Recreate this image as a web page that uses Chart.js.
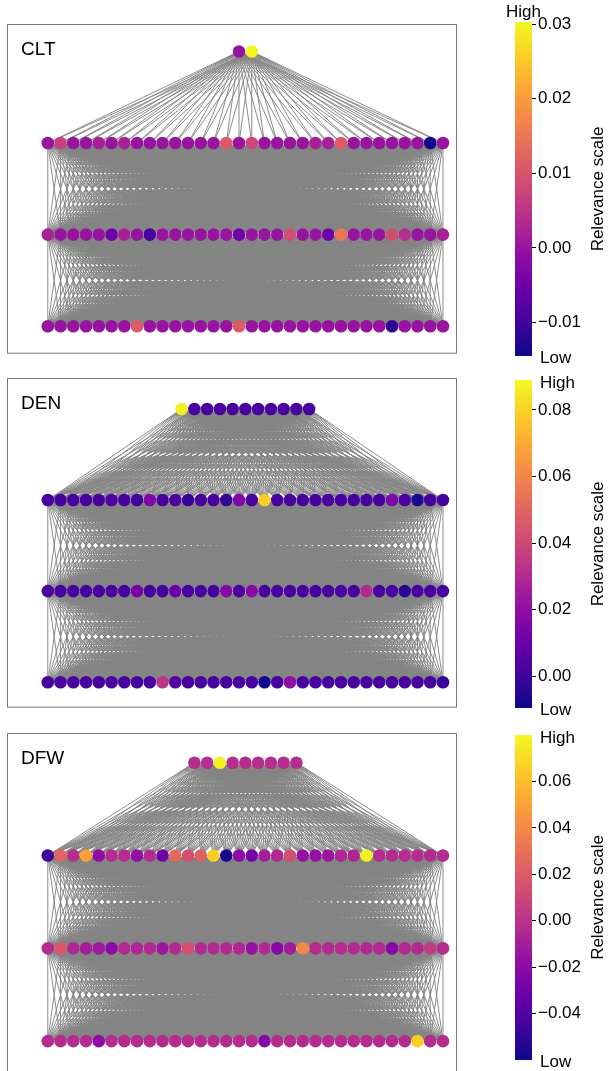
<!DOCTYPE html>
<html>
<head>
<meta charset="utf-8">
<script src="https://cdn.jsdelivr.net/npm/chart.js@4"></script>
<style>
body {
    margin: 0;
    width: 608px;
    height: 1071px;
    overflow: hidden;
    position: relative;
    background: #fff;
    font-family: "Liberation Sans", Arial, sans-serif;
}
canvas {
    position: absolute;
}
</style>
</head>
<body>
<script>
// relevance of each node, layer by layer (top layer first)
var cltTop = [0.000, 0.030];
var cltL1 = [0.000, 0.007, 0.000, 0.000, 0.002, 0.000, 0.002, 0.000, 0.000, 0.000, 0.000, 0.000, 0.000, 0.000, 0.011, 0.000,
             0.008, 0.000, 0.000, 0.000, 0.000, 0.002, 0.002, 0.011, 0.000, 0.000, 0.000, 0.000, 0.000, 0.000, -0.014, 0.000];
var cltL2 = [0.002, 0.000, 0.000, 0.000, 0.000, -0.005, 0.002, 0.000, -0.009, 0.000, 0.000, 0.000, 0.000, 0.000, 0.000, -0.005,
             0.000, 0.000, 0.000, 0.009, 0.000, 0.000, -0.005, 0.015, 0.000, 0.000, 0.000, 0.009, 0.004, 0.000, 0.000, 0.002];
var cltL3 = [0.000, 0.000, 0.000, 0.000, 0.000, 0.000, 0.000, 0.011, 0.000, 0.000, 0.000, 0.000, 0.000, 0.000, 0.000, 0.011,
             0.000, 0.000, 0.000, 0.000, 0.000, 0.000, 0.000, 0.000, 0.000, 0.000, 0.000, -0.012, 0.000, 0.000, 0.000, 0.000];
var cltRange = [-0.0145, 0.0303];
var cltTicks = [-0.01, 0.00, 0.01, 0.02, 0.03];

var denTop = [0.087, 0.002, 0.002, 0.002, 0.002, 0.002, 0.002, 0.002, 0.002, 0.002, 0.002];
var denL1 = [0.002, 0.002, 0.002, 0.002, 0.002, 0.004, 0.002, 0.000, 0.016, 0.002, 0.003, -0.002, 0.002, 0.002, -0.002, 0.016,
             0.002, 0.079, 0.002, 0.002, 0.002, 0.002, 0.002, 0.002, 0.002, 0.002, 0.002, 0.015, 0.002, -0.006, 0.002, 0.002];
var denL2 = [0.002, 0.002, 0.002, 0.002, 0.002, 0.002, 0.002, 0.013, 0.002, 0.001, 0.010, 0.002, 0.002, 0.002, 0.018, 0.002,
             0.018, 0.002, 0.002, 0.002, 0.002, 0.002, 0.002, 0.002, 0.002, 0.030, 0.002, 0.002, -0.004, 0.002, 0.002, 0.002];
var denL3 = [0.002, 0.002, 0.002, 0.002, 0.002, 0.002, 0.002, 0.002, 0.002, 0.034, 0.005, 0.002, 0.002, 0.002, 0.002, 0.002,
             0.002, -0.008, 0.002, 0.020, 0.002, 0.002, 0.002, 0.002, 0.002, 0.002, 0.002, 0.002, 0.002, 0.002, 0.002, -0.001];
var denRange = [-0.0096, 0.089];
var denTicks = [0.00, 0.02, 0.04, 0.06, 0.08];

var dfwTop = [-0.002, -0.002, 0.077, -0.002, -0.002, -0.002, -0.002, -0.002, -0.002];
var dfwL1 = [-0.046, 0.024, -0.002, 0.050, -0.018, -0.003, -0.003, -0.017, -0.003, -0.030, 0.026, 0.014, 0.022, 0.066, -0.057, -0.019,
             -0.028, -0.010, -0.005, 0.014, -0.016, -0.016, -0.014, -0.005, -0.006, 0.077, -0.003, -0.003, -0.003, -0.003, -0.004, -0.003];
var dfwL2 = [-0.003, 0.018, -0.005, -0.009, -0.012, -0.020, -0.004, -0.006, -0.004, -0.013, -0.004, 0.014, -0.004, -0.004, -0.004, -0.005,
             -0.015, -0.004, -0.021, -0.010, 0.040, -0.003, -0.004, -0.003, -0.004, -0.005, -0.004, -0.021, -0.004, -0.004, 0.004, -0.003];
var dfwL3 = [-0.003, -0.003, -0.003, -0.003, -0.018, -0.003, -0.003, -0.003, -0.003, -0.003, -0.003, -0.003, -0.003, -0.003, -0.003, -0.003,
             -0.003, -0.022, -0.003, -0.003, -0.003, -0.003, -0.003, -0.003, -0.003, -0.003, -0.003, -0.003, -0.003, 0.066, -0.003, -0.003];
var dfwRange = [-0.060, 0.080];
var dfwTicks = [-0.04, -0.02, 0.00, 0.02, 0.04, 0.06];

// layout per panel: page offset, network box (page px), y range, colorbar extent
var panels = [
    {name: "CLT", layers: [cltTop, cltL1, cltL2, cltL3], range: cltRange, ticks: cltTicks,
     top: 0, boxTop: 24, boxBottom: 356, yMin: -0.3, yMax: 3.3, cbTop: 22, cbBottom: 356, highAbove: true},
    {name: "DEN", layers: [denTop, denL1, denL2, denL3], range: denRange, ticks: denTicks,
     top: 354, boxTop: 378, boxBottom: 710, yMin: -0.28, yMax: 3.34, cbTop: 380, cbBottom: 708, highAbove: false},
    {name: "DFW", layers: [dfwTop, dfwL1, dfwL2, dfwL3], range: dfwRange, ticks: dfwTicks,
     top: 709, boxTop: 733, boxBottom: 1075, yMin: -0.34, yMax: 3.32, cbTop: 735, cbBottom: 1060, highAbove: false}
];

var FONT = '"Liberation Sans", Arial, sans-serif';

// matplotlib "plasma" colormap stops
var plasmaStops = ["#0d0887", "#41049d", "#6a00a8", "#8f0da4", "#b12a90", "#cc4778", "#e16462", "#f2844b", "#fca636", "#fcce25", "#f0f921"];

function hexRgb(h) {
    return [parseInt(h.substr(1, 2), 16), parseInt(h.substr(3, 2), 16), parseInt(h.substr(5, 2), 16)];
}

function plasma(t) {
    t = Math.max(0, Math.min(1, t));
    var n = plasmaStops.length - 1;
    var f = t * n;
    var i = Math.min(Math.floor(f), n - 1);
    var u = f - i;
    var a = hexRgb(plasmaStops[i]), b = hexRgb(plasmaStops[i + 1]);
    return "rgb(" + Math.round(a[0] + (b[0] - a[0]) * u) + "," + Math.round(a[1] + (b[1] - a[1]) * u) + "," + Math.round(a[2] + (b[2] - a[2]) * u) + ")";
}

function fmtTick(v) {
    if (Math.abs(v) < 1e-9) return "0.00";
    return (v < 0 ? "\u2212" : "") + Math.abs(v).toFixed(2);
}

// every node of one layer joined to every node of the next
var edgePlugin = {
    id: "edges",
    beforeDatasetsDraw: function(chart) {
        var ctx = chart.ctx, xs = chart.scales.x, ys = chart.scales.y;
        var sets = chart.data.datasets;
        ctx.save();
        ctx.strokeStyle = "#858585";
        ctx.lineWidth = 0.95;
        for (var l = 0; l < sets.length - 1; l++) {
            var a = sets[l].data, b = sets[l + 1].data;
            ctx.beginPath();
            a.forEach(function(p) {
                b.forEach(function(q) {
                    ctx.moveTo(xs.getPixelForValue(p.x), ys.getPixelForValue(p.y));
                    ctx.lineTo(xs.getPixelForValue(q.x), ys.getPixelForValue(q.y));
                });
            });
            ctx.stroke();
        }
        ctx.restore();
    }
};

var framePlugin = {
    id: "frame",
    afterDraw: function(chart) {
        var a = chart.chartArea, ctx = chart.ctx;
        ctx.save();
        ctx.strokeStyle = "#777";
        ctx.lineWidth = 1;
        ctx.strokeRect(a.left + 0.5, a.top + 0.5, a.right - a.left - 1, a.bottom - a.top - 1);
        ctx.font = "19px " + FONT;
        ctx.fillStyle = "#000";
        ctx.textBaseline = "alphabetic";
        ctx.fillText(chart.options.plugins.frame.label, a.left + 14, a.top + 31);
        ctx.restore();
    }
};

var cbTextPlugin = {
    id: "cbText",
    afterDraw: function(chart) {
        var a = chart.chartArea, ctx = chart.ctx;
        var opts = chart.options.plugins.cbText;
        ctx.save();
        ctx.font = "17px " + FONT;
        ctx.fillStyle = "#000";
        ctx.textBaseline = "middle";
        ctx.textAlign = "left";
        ctx.fillText("Low", a.right + 8, a.bottom + 2);
        if (opts.highAbove) {
            ctx.textAlign = "center";
            ctx.fillText("High", (a.left + a.right) / 2, a.top - 10);
        } else {
            ctx.fillText("High", a.right + 8, a.top + 3);
        }
        ctx.translate(118, (a.top + a.bottom) / 2);
        ctx.rotate(-Math.PI / 2);
        ctx.textAlign = "center";
        ctx.fillText("Relevance scale", 0, 0);
        ctx.restore();
    }
};

function makeCanvas(left, top, w, h) {
    var c = document.createElement("canvas");
    c.width = w;
    c.height = h;
    c.style.left = left + "px";
    c.style.top = top + "px";
    c.style.width = w + "px";
    c.style.height = h + "px";
    document.body.appendChild(c);
    return c;
}

panels.forEach(function(p) {
    var vmin = p.range[0], vmax = p.range[1];
    var nLayers = p.layers.length;

    // network
    var datasets = p.layers.map(function(vals, li) {
        var n = vals.length;
        return {
            data: vals.map(function(v, i) { return {x: 15.5 - (n - 1) / 2 + i, y: nLayers - 1 - li}; }),
            pointBackgroundColor: vals.map(function(v) { return plasma((v - vmin) / (vmax - vmin)); }),
            pointBorderWidth: 0,
            pointRadius: 6.3,
            pointHoverRadius: 6.3,
            showLine: false
        };
    });

    var netH = p.boxBottom - p.top + 4;
    var net = makeCanvas(0, p.top, 480, netH);
    new Chart(net.getContext("2d"), {
        type: "scatter",
        data: {datasets: datasets},
        options: {
            responsive: false,
            animation: false,
            events: [],
            layout: {padding: {left: 7, right: 23, top: p.boxTop - p.top, bottom: 4}},
            scales: {
                x: {type: "linear", min: -3.2, max: 32.1, display: false},
                y: {type: "linear", min: p.yMin, max: p.yMax, display: false}
            },
            plugins: {
                legend: {display: false},
                tooltip: {enabled: false},
                frame: {label: p.name}
            }
        },
        plugins: [edgePlugin, framePlugin]
    });

    // colorbar
    var cbH = p.cbBottom - p.top + 16;
    var cb = makeCanvas(480, p.top, 128, cbH);
    new Chart(cb.getContext("2d"), {
        type: "bar",
        data: {
            labels: [""],
            datasets: [{
                data: [[vmin, vmax]],
                borderWidth: 0,
                borderSkipped: false,
                barPercentage: 1,
                categoryPercentage: 1,
                backgroundColor: function(ctx) {
                    var area = ctx.chart.chartArea;
                    if (!area) return plasmaStops[5];
                    var g = ctx.chart.ctx.createLinearGradient(0, area.bottom, 0, area.top);
                    plasmaStops.forEach(function(c, i) { g.addColorStop(i / (plasmaStops.length - 1), c); });
                    return g;
                }
            }]
        },
        options: {
            responsive: false,
            animation: false,
            events: [],
            layout: {padding: {left: 35, right: 0, top: p.cbTop - p.top, bottom: 16}},
            scales: {
                x: {display: false},
                y: {
                    position: "right",
                    min: vmin,
                    max: vmax,
                    afterBuildTicks: function(scale) {
                        scale.ticks = p.ticks.map(function(v) { return {value: v}; });
                    },
                    afterFit: function(scale) { scale.width = 76; },
                    border: {display: false},
                    grid: {drawOnChartArea: false, drawTicks: true, tickLength: 4, color: "#000", lineWidth: 1},
                    ticks: {
                        autoSkip: false,
                        padding: 2,
                        color: "#000",
                        font: {size: 17, family: FONT},
                        callback: function(v) { return fmtTick(v); }
                    }
                }
            },
            plugins: {
                legend: {display: false},
                tooltip: {enabled: false},
                cbText: {highAbove: p.highAbove}
            }
        },
        plugins: [cbTextPlugin]
    });
});
</script>
</body>
</html>
